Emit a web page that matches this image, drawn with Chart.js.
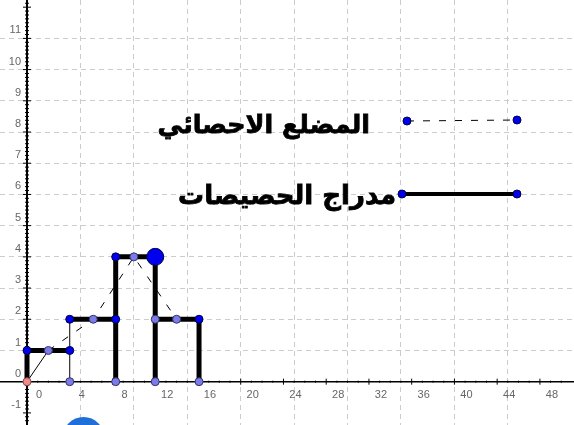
<!DOCTYPE html>
<html>
<head>
<meta charset="utf-8">
<script src="https://cdn.jsdelivr.net/npm/chart.js@4"></script>
<style>
  html, body { margin: 0; padding: 0; background: #fff; }
  canvas { display: block; }
</style>
</head>
<body>
<canvas id="c" width="574" height="425"></canvas>
<script>
// class edges and frequencies
const barEdges = [0, 4, 8.3, 12, 16.1];
const barHeights = [1, 2, 4, 2];
const midPoints = [2, 6.2, 10, 14];
const xTickLabels = [0, 4, 8, 12, 16, 20, 24, 28, 32, 36, 40, 44, 48];
const yTickLabels = [-1, 0, 1, 2, 3, 4, 5, 6, 7, 8, 9, 10, 11];
const legendNames = ['المضلع الاحصائي', 'مدراج الحصيصات'];

const X_MIN = -2.527, X_MAX = 51.19;
const Y_MIN = -1.388, Y_MAX = 12.23;

const e = barEdges, h = barHeights;
const pt = (x, y) => ({ x, y });
const gap = (x) => ({ x, y: null });

// thick outline of the histogram
const thickPath = [
  pt(e[0], 0), pt(e[0], h[0]), pt(e[1], h[0]), gap(e[1]),
  pt(e[1], h[1]), pt(e[2], h[1]), gap(e[2]),
  pt(e[2], 0), pt(e[2], h[2]), pt(e[3], h[2]), pt(e[3], 0), gap(e[3]),
  pt(e[3], h[3]), pt(e[4], h[3]), pt(e[4], 0)
];
const thinPath = [pt(e[1], 0), pt(e[1], h[1])];
const polygon = [pt(e[0], 0)].concat(midPoints.map((m, i) => pt(m, h[i])));

const darkPts = [pt(e[0], h[0]), pt(e[1], h[0]), pt(e[1], h[1]), pt(e[2], h[1]), pt(e[2], h[2]), pt(e[4], h[3])];
const bigPts = [pt(e[3], h[2])];
const lightPts = [pt(e[1], 0), pt(e[2], 0), pt(e[3], 0), pt(e[4], 0), pt(e[3], h[3])]
  .concat(midPoints.map((m, i) => pt(m, h[i])));
const originPts = [pt(e[0], 0)];

const gridColor = (step) => (c) => {
  const v = c.tick && c.tick.value;
  return Math.abs(v / step - Math.round(v / step)) < 1e-6 ? '#cccccc' : 'rgba(0,0,0,0)';
};

// axes, ticks and labels drawn on the plot area like the original
const axesPlugin = {
  id: 'axes',
  beforeDatasetsDraw(chart) {
    const { ctx, scales: { x, y }, width, height } = chart;
    const x0 = x.getPixelForValue(0), y0 = y.getPixelForValue(0);
    ctx.save();
    ctx.strokeStyle = '#000';
    ctx.lineWidth = 1.5;
    ctx.beginPath(); ctx.moveTo(0, y0); ctx.lineTo(width, y0); ctx.stroke();
    ctx.lineWidth = 2;
    ctx.beginPath(); ctx.moveTo(x0, 0); ctx.lineTo(x0, height); ctx.stroke();
    // y minor ticks
    ctx.lineWidth = 1;
    for (let v = -1.25; v <= 12.2; v += 0.125) {
      const p = y.getPixelForValue(v);
      const len = Math.abs(v - Math.round(v)) < 1e-6 ? 4 : 2;
      ctx.beginPath(); ctx.moveTo(x0 - len, p); ctx.lineTo(x0 + len, p); ctx.stroke();
    }
    // x ticks
    for (let v = 0; v <= 50; v += 1) {
      const p = x.getPixelForValue(v);
      const len = v % 4 === 0 ? 3 : 1;
      ctx.beginPath(); ctx.moveTo(p, y0 - len); ctx.lineTo(p, y0 + len); ctx.stroke();
    }
    ctx.fillStyle = '#666';
    ctx.font = '11px "Liberation Sans", sans-serif';
    ctx.textBaseline = 'middle';
    ctx.textAlign = 'center';
    xTickLabels.forEach(v => {
      ctx.fillText(String(v), x.getPixelForValue(v) + 12, y0 + 13);
    });
    ctx.textAlign = 'right';
    yTickLabels.forEach(v => {
      ctx.fillText(String(v), x0 - 6, y.getPixelForValue(v) - 8);
    });
    ctx.restore();
  },
  afterDatasetsDraw(chart) {
    const { ctx } = chart;
    ctx.save();
    // legend: dashed polygon
    ctx.strokeStyle = '#000';
    ctx.lineWidth = 1;
    ctx.setLineDash([7, 9]);
    ctx.beginPath(); ctx.moveTo(407, 121); ctx.lineTo(517, 120); ctx.stroke();
    ctx.setLineDash([]);
    ctx.lineWidth = 4;
    ctx.beginPath(); ctx.moveTo(402, 194); ctx.lineTo(517, 194); ctx.stroke();
    const dot = (px, py) => {
      ctx.beginPath(); ctx.arc(px, py, 4, 0, Math.PI * 2);
      ctx.fillStyle = '#0000ee'; ctx.fill();
      ctx.lineWidth = 1; ctx.strokeStyle = '#000044'; ctx.stroke();
    };
    dot(407, 121); dot(517, 120); dot(402, 194); dot(517, 194);
    // legend text
    ctx.fillStyle = '#000';
    ctx.strokeStyle = '#000';
    ctx.lineWidth = 0.8;
    ctx.textAlign = 'right';
    ctx.textBaseline = 'alphabetic';
    const fitText = (txt, right, base, w) => {
      ctx.font = 'bold 22px "DejaVu Sans", sans-serif';
      const m = ctx.measureText(txt).width;
      const size = Math.min(26, 22 * w / m);
      ctx.font = 'bold ' + size.toFixed(1) + 'px "DejaVu Sans", sans-serif';
      ctx.fillText(txt, right, base);
      ctx.strokeText(txt, right, base);
    };
    fitText(legendNames[0], 370, 133, 213);
    fitText(legendNames[1], 396, 204, 235);
    // blue marker cut by the bottom edge
    ctx.beginPath(); ctx.arc(83.5, 438, 21, 0, Math.PI * 2);
    ctx.fillStyle = '#1f6fd8'; ctx.fill();
    ctx.restore();
  }
};

new Chart(document.getElementById('c'), {
  type: 'scatter',
  data: {
    datasets: [
      { data: originPts, order: 0, pointRadius: 4, pointBackgroundColor: '#f08a8a', pointBorderColor: '#884444', pointBorderWidth: 1 },
      { data: bigPts, order: 0, pointRadius: 8.5, pointBackgroundColor: '#0000ee', pointBorderColor: '#000044', pointBorderWidth: 1 },
      { data: darkPts, order: 0, pointRadius: 4, pointBackgroundColor: '#0000ee', pointBorderColor: '#000044', pointBorderWidth: 1 },
      { data: lightPts, order: 0, pointRadius: 4, pointBackgroundColor: '#7b7bea', pointBorderColor: '#333366', pointBorderWidth: 1 },
      { data: thickPath, order: 2, showLine: true, spanGaps: false, pointRadius: 0, borderColor: '#000', borderWidth: 5, borderCapStyle: 'butt' },
      { data: thinPath, order: 2, showLine: true, pointRadius: 0, borderColor: '#000', borderWidth: 1 },
      { data: polygon, order: 3, showLine: true, pointRadius: 0, borderColor: '#000', borderWidth: 1,
        segment: { borderDash: c => c.p0DataIndex === 0 ? [] : [7, 10] } }
    ]
  },
  options: {
    responsive: false,
    animation: false,
    layout: { padding: 0, autoPadding: false },
    plugins: { legend: { display: false }, tooltip: { enabled: false } },
    scales: {
      x: {
        type: 'linear', min: X_MIN, max: X_MAX,
        ticks: { display: false, stepSize: 5 },
        grid: { color: gridColor(5), drawTicks: false, lineWidth: 1 },
        border: { display: false, dash: [5, 4] }
      },
      y: {
        type: 'linear', min: Y_MIN, max: Y_MAX,
        ticks: { display: false, stepSize: 1 },
        grid: { color: gridColor(1), drawTicks: false, lineWidth: 1 },
        border: { display: false, dash: [5, 4] }
      }
    }
  },
  plugins: [axesPlugin]
});
</script>
</body>
</html>
